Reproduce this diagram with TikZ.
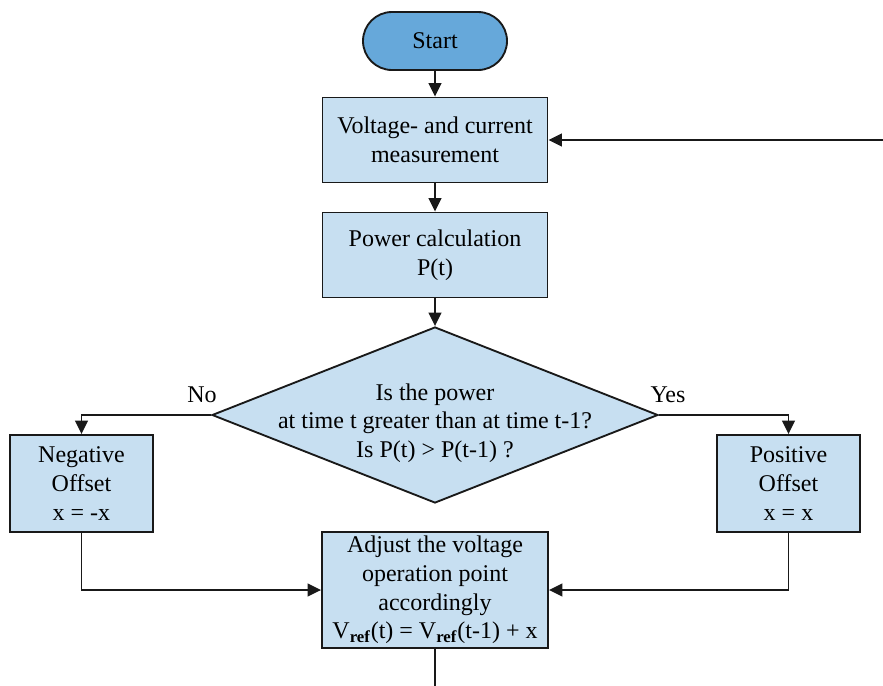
\documentclass[tikz,border=0pt]{standalone}
\usepackage{fontspec}
\setmainfont{Liberation Serif}
\usetikzlibrary{arrows.meta,shapes.geometric}
\definecolor{startblue}{RGB}{102,168,218}
\definecolor{boxblue}{RGB}{199,223,241}
\definecolor{edge}{RGB}{25,25,25}
\begin{document}
\begin{tikzpicture}[x=0.75pt,y=-0.75pt,
  font=\fontsize{18}{21.5}\selectfont,
  startbox/.style={draw=edge,line width=1.4pt,fill=startblue,rounded corners=21.75pt,
    minimum width=108pt,minimum height=43.5pt,inner sep=0pt},
  procbox/.style={draw=edge,line width=1.4pt,fill=boxblue,align=center,inner sep=0pt},
  decbox/.style={draw=edge,line width=1.4pt,fill=boxblue,shape=diamond,inner sep=0pt,
    minimum width=334.5pt,minimum height=132pt},
  flow/.style={draw=edge,line width=1.3pt,-{Triangle[length=10pt,width=9.5pt]}},
  plain/.style={draw=edge,line width=1.3pt}]
\useasboundingbox (0,0) rectangle (883,686);

% nodes
\node[startbox] (start) at (435,41) {Start};
\node[procbox,minimum width=168.75pt,minimum height=63.75pt] (meas) at (435,140)
  {Voltage- and current\\measurement};
\node[procbox,minimum width=168.75pt,minimum height=63.75pt] (power) at (435,255)
  {Power calculation\\P(t)};
\node[decbox] (dec) at (435,415) {};
\node[align=center,inner sep=0pt] (dectext) at (435,423)
  {Is the power\\at time t greater than at time t-1?\\Is P(t) > P(t-1) ?};
\node[procbox,minimum width=107.25pt,minimum height=72.75pt] (neg) at (81.5,483.5)
  {Negative\\Offset\\x = -x};
\node[procbox,minimum width=107.25pt,minimum height=72.75pt] (pos) at (788.5,483.5)
  {Positive\\Offset\\x = x};
\node[procbox,minimum width=169.5pt,minimum height=87pt] (adj) at (435,590)
  {Adjust the voltage\\operation point\\accordingly\\
   V\textsubscript{\textbf{ref}}(t) = V\textsubscript{\textbf{ref}}(t-1) + x};
\node (nolab) at (202,395) {No};
\node (yeslab) at (668,395) {Yes};
\coordinate (loopin) at (883,140);
\coordinate (outend) at (435,686);

% connectors
\draw[flow] (start) -- (meas);
\draw[flow] (meas) -- (power);
\draw[flow] (power) -- (dec.north);
\draw[flow] (dec.west) -| (neg.north);
\draw[flow] (dec.east) -| (pos.north);
\draw[flow] (neg.south) |- (adj.west);
\draw[flow] (pos.south) |- (adj.east);
\draw[plain] (adj.south) -- (outend);
\draw[flow] (loopin) -- (meas.east);
\end{tikzpicture}
\end{document}
